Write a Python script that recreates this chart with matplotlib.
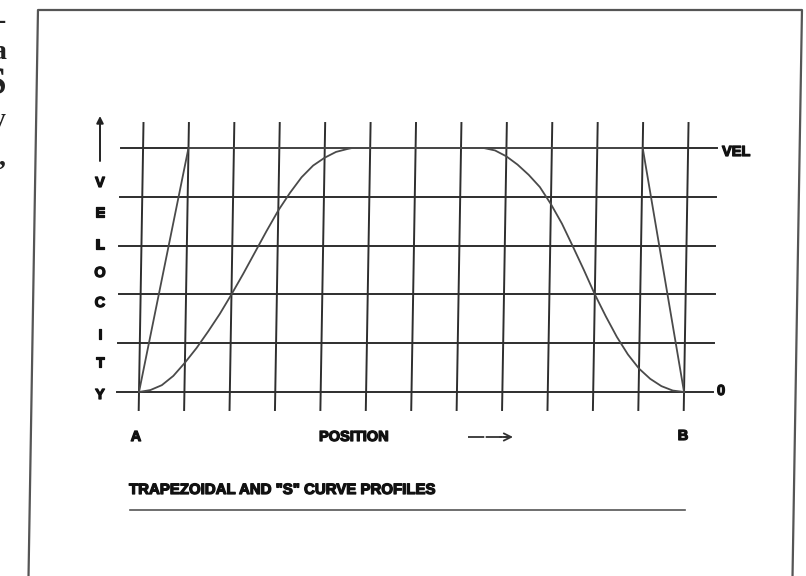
import numpy as np
import matplotlib
matplotlib.use('Agg')
import matplotlib.pyplot as plt
import matplotlib.patheffects as pe
from matplotlib.transforms import Affine2D

## Data (grid units: position 0..12, velocity 0..5)
positions = np.arange(13)
vel_levels = np.arange(6)

trap_x = [0, 1, 11, 12]
trap_y = [0, 5, 5, 0]

s_x = [0, 0.25, 0.5, 0.75, 1, 1.25, 1.5, 1.75, 2, 2.25, 2.5, 2.75, 3, 3.25, 3.5,
       3.75, 4, 4.25, 4.5, 4.6, 7.5, 7.75, 8, 8.25, 8.5, 8.75, 9, 9.25, 9.5, 9.75,
       10, 10.25, 10.5, 10.75, 11, 11.25, 11.5, 11.75, 12]
s_y = [0, 0.04, 0.14, 0.33, 0.6, 0.9, 1.24, 1.6, 2.0, 2.42, 2.86, 3.3, 3.72, 4.08, 4.4,
       4.64, 4.8, 4.92, 4.98, 5.0, 5.0, 4.95, 4.83, 4.66, 4.45, 4.2, 3.85, 3.45, 2.98, 2.5,
       2.0, 1.55, 1.13, 0.77, 0.48, 0.27, 0.12, 0.03, 0]

axis_letters = list('VELOCITY')
margin_chars = ['-', 'a', 'S', 'y', ',']

## pixel <-> data helpers (image is 806x576)
W, H = 806, 576
x0, dx = 139.0, 45.42
y0, dy = 392.0, 48.8
def X(px):
    return (px - x0) / dx
def Y(py):
    return (y0 - py) / dy

fig = plt.figure(figsize=(W / 100, H / 100), dpi=100)
ax = fig.add_axes([0, 0, 1, 1])
ax.set_xlim(X(0), X(W))
ax.set_ylim(Y(H), Y(0))
ax.axis('off')

## the scan is slightly sheared
k = 0.0167
ref = H - y0
skew = Affine2D().translate(0, -ref).skew(np.arctan(k), 0).translate(0, ref)
tr = ax.transData + skew

line_col = '#2e2e2e'
curve_col = '#4a4a4a'

## page frame
fx = [X(31.6), X(31.6), X(795.6), X(795.6)]
fy = [Y(600), Y(10), Y(10), Y(600)]
ax.plot(fx, fy, color='#555555', lw=1.6, transform=tr, clip_on=False)

## grid
for p in positions:
    ax.plot([p, p], [Y(410), Y(123)], color=line_col, lw=1.4, transform=tr)
for v in vel_levels:
    ax.plot([X(117), X(713)], [v, v], color=line_col, lw=1.4, transform=tr)

## profiles
ax.plot(trap_x, trap_y, color=curve_col, lw=1.3, transform=tr)
ax.plot(s_x, s_y, color=curve_col, lw=1.3, transform=tr)

## labels
heavy = [pe.withStroke(linewidth=0.9, foreground='#111111')]
font = dict(family='Liberation Sans', weight='bold', color='#111111',
            fontsize=10.5, path_effects=heavy)
ax.text(X(722), Y(152), 'VEL', ha='left', va='center', **font)
ax.text(X(717), Y(391), '0', ha='left', va='center', **font)
ax.text(X(136), Y(437), 'A', ha='center', va='center', **font)
ax.text(X(354), Y(437), 'POSITION', ha='center', va='center', **font)
ax.text(X(683), Y(436), 'B', ha='center', va='center', **font)
ax.text(X(129), Y(490), 'TRAPEZOIDAL AND "S" CURVE PROFILES', ha='left', va='center',
        fontsize=10.8, **{k_: v_ for k_, v_ in font.items() if k_ != 'fontsize'})

letter_rows = [183, 213, 245, 273, 303, 335, 363, 395]
for ch, r in zip(axis_letters, letter_rows):
    ax.text(X(100), Y(r), ch, ha='center', va='center', **font)

## velocity arrow
ax.annotate('', xy=(X(100), Y(116)), xytext=(X(100), Y(161)),
            arrowprops=dict(arrowstyle='-|>', lw=1.4, color='#222222',
                            mutation_scale=10, shrinkA=0, shrinkB=0))

## position arrow
ax.plot([X(468), X(508)], [Y(437), Y(437)], color='#333333', lw=1.3,
        linestyle=(0, (9, 0.8)))
ax.annotate('', xy=(X(513), Y(437)), xytext=(X(500), Y(437)),
            arrowprops=dict(arrowstyle='->', lw=1.3, color='#333333',
                            mutation_scale=13, shrinkA=0, shrinkB=0))

## title underline
ax.plot([X(130), X(685)], [Y(510), Y(510)], color='#555555', lw=1.2)

## fragments of the neighbouring page at the left edge (cut by the scan)
char_rows = [22, 53, 85, 121, 158]
char_sizes = [20, 20, 28, 20, 20]
for ch, r, s in zip(margin_chars, char_rows, char_sizes):
    ax.text(X(6), Y(r), ch, ha='right', va='center', fontsize=s,
            family='Liberation Serif', weight='bold', color='#222222')

fig.savefig('out.png', dpi=100)
